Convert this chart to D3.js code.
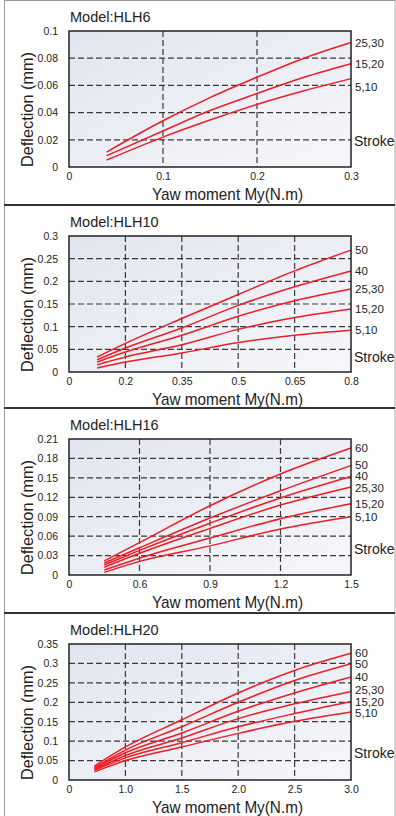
<!DOCTYPE html>
<html>
<head>
<meta charset="utf-8">
<script src="https://cdn.jsdelivr.net/npm/d3@7/dist/d3.min.js"></script>
<style>
  body { margin: 0; background: #fff; }
  text { font-family: "Liberation Sans", Arial, sans-serif; fill: #222; }
</style>
</head>
<body>
<script>
// ---- data ----
var models = ["HLH6", "HLH10", "HLH16", "HLH20"];

var xTicks6 = [0, 0.1, 0.2, 0.3];
var xLabels6 = ["0", "0.1", "0.2", "0.3"];
var yTicks6 = [0, 0.02, 0.04, 0.06, 0.08, 0.1];
var yLabels6 = ["0", "0.02", "0.04", "0.06", "0.08", "0.1"];
var series6 = ["25,30", "15,20", "5,10"];
var x6 = [0.04, 0.1, 0.15, 0.2, 0.25, 0.3];
var y6 = [
  [0.011, 0.034, 0.051, 0.066, 0.080, 0.0915],
  [0.0083, 0.0265, 0.0415, 0.054, 0.066, 0.076],
  [0.0051, 0.022, 0.0345, 0.046, 0.056, 0.065]
];

var xTicks10 = [0, 0.2, 0.35, 0.5, 0.65, 0.8];
var xLabels10 = ["0", "0.2", "0.35", "0.5", "0.65", "0.8"];
var yTicks10 = [0, 0.05, 0.1, 0.15, 0.2, 0.25, 0.3];
var yLabels10 = ["0", "0.05", "0.1", "0.15", "0.2", "0.25", "0.3"];
var series10 = ["50", "40", "25,30", "15,20", "5,10"];
var x10 = [0.1, 0.2, 0.35, 0.5, 0.65, 0.8];
var y10 = [
  [0.033, 0.063, 0.118, 0.171, 0.223, 0.269],
  [0.027, 0.053, 0.097, 0.147, 0.188, 0.223],
  [0.022, 0.044, 0.081, 0.123, 0.157, 0.183],
  [0.016, 0.033, 0.060, 0.094, 0.120, 0.139],
  [0.009, 0.022, 0.042, 0.065, 0.081, 0.092]
];

var xTicks16 = [0, 0.6, 0.9, 1.2, 1.5];
var xLabels16 = ["0", "0.6", "0.9", "1.2", "1.5"];
var yTicks16 = [0, 0.03, 0.06, 0.09, 0.12, 0.15, 0.18, 0.21];
var yLabels16 = ["0", "0.03", "0.06", "0.09", "0.12", "0.15", "0.18", "0.21"];
var series16 = ["60", "50", "40", "25,30", "15,20", "5,10"];
var x16 = [0.3, 0.6, 0.9, 1.2, 1.5];
var y16 = [
  [0.0217, 0.050, 0.107, 0.156, 0.196],
  [0.0186, 0.042, 0.088, 0.130, 0.169],
  [0.0155, 0.038, 0.080, 0.119, 0.152],
  [0.012, 0.0335, 0.072, 0.108, 0.136],
  [0.0077, 0.026, 0.057, 0.087, 0.110],
  [0.004, 0.021, 0.045, 0.071, 0.090]
];

var xTicks20 = [0, 1.0, 1.5, 2.0, 2.5, 3.0];
var xLabels20 = ["0", "1.0", "1.5", "2.0", "2.5", "3.0"];
var yTicks20 = [0, 0.05, 0.1, 0.15, 0.2, 0.25, 0.3, 0.35];
var yLabels20 = ["0", "0.05", "0.1", "0.15", "0.2", "0.25", "0.3", "0.35"];
var series20 = ["60", "50", "40", "25,30", "15,20", "5,10"];
var x20 = [0.45, 1.0, 1.5, 2.0, 2.5, 3.0];
var y20 = [
  [0.036, 0.085, 0.155, 0.224, 0.282, 0.326],
  [0.032, 0.077, 0.137, 0.200, 0.256, 0.299],
  [0.030, 0.070, 0.121, 0.177, 0.224, 0.265],
  [0.027, 0.063, 0.108, 0.158, 0.196, 0.228],
  [0.025, 0.057, 0.096, 0.137, 0.171, 0.202],
  [0.021, 0.050, 0.085, 0.120, 0.151, 0.175]
];

var panels = [
  {model: models[0], xTicks: xTicks6, xLabels: xLabels6, yTicks: yTicks6, yLabels: yLabels6, names: series6, xs: x6, ys: y6},
  {model: models[1], xTicks: xTicks10, xLabels: xLabels10, yTicks: yTicks10, yLabels: yLabels10, names: series10, xs: x10, ys: y10},
  {model: models[2], xTicks: xTicks16, xLabels: xLabels16, yTicks: yTicks16, yLabels: yLabels16, names: series16, xs: x16, ys: y16},
  {model: models[3], xTicks: xTicks20, xLabels: xLabels20, yTicks: yTicks20, yLabels: yLabels20, names: series20, xs: x20, ys: y20}
];

// ---- layout ----
var width = 396, height = 816;
var panelTops = [0, 205, 408, 613];
var strokeLift = [26, 15, 26, 27];   // "Stroke" label height above the plot bottom
var plotLeft = 69, plotRight = 351, plotH = 136;

var svg = d3.select("body").append("svg")
    .attr("width", width)
    .attr("height", height);

var grad = svg.append("defs").append("linearGradient")
    .attr("id", "bg")
    .attr("x1", 0).attr("y1", 0).attr("x2", 1).attr("y2", 1);
grad.append("stop").attr("offset", "0%").attr("stop-color", "#e1e5ef");
grad.append("stop").attr("offset", "100%").attr("stop-color", "#f6f7fa");

// outer frame
svg.append("line").attr("x1", 4.5).attr("x2", 4.5).attr("y1", 0).attr("y2", height)
    .attr("stroke", "#999").attr("stroke-width", 1);
svg.append("line").attr("x1", 395).attr("x2", 395).attr("y1", 0).attr("y2", height)
    .attr("stroke", "#aaa").attr("stroke-width", 1);
svg.append("line").attr("x1", 4).attr("x2", 395).attr("y1", 0.5).attr("y2", 0.5)
    .attr("stroke", "#999").attr("stroke-width", 1);

panels.forEach(function (p, k) {
    var top = panelTops[k] + 31;
    var bottom = top + plotH;
    var g = svg.append("g");

    if (k > 0) {
        g.append("line")
            .attr("x1", 4).attr("x2", 395)
            .attr("y1", panelTops[k]).attr("y2", panelTops[k])
            .attr("stroke", "#333").attr("stroke-width", 2);
    }

    var step = (plotRight - plotLeft) / (p.xTicks.length - 1);
    var x = d3.scaleLinear()
        .domain(p.xTicks)
        .range(p.xTicks.map(function (d, i) { return plotLeft + i * step; }));
    var y = d3.scaleLinear()
        .domain([0, p.yTicks[p.yTicks.length - 1]])
        .range([bottom, top]);

    g.append("rect")
        .attr("x", plotLeft).attr("y", top)
        .attr("width", plotRight - plotLeft).attr("height", plotH)
        .attr("fill", "url(#bg)");

    // dashed grid
    g.selectAll(".hgrid")
        .data(p.yTicks.slice(1, -1))
        .enter().append("line")
        .attr("x1", plotLeft).attr("x2", plotRight)
        .attr("y1", function (d) { return y(d); })
        .attr("y2", function (d) { return y(d); })
        .attr("stroke", "#3a3a3a").attr("stroke-width", 1.2)
        .attr("stroke-dasharray", "6,3");
    g.selectAll(".vgrid")
        .data(p.xTicks.slice(1, -1))
        .enter().append("line")
        .attr("y1", top).attr("y2", bottom)
        .attr("x1", function (d) { return x(d); })
        .attr("x2", function (d) { return x(d); })
        .attr("stroke", "#3a3a3a").attr("stroke-width", 1.2)
        .attr("stroke-dasharray", "6,3");

    // curves
    var line = d3.line()
        .x(function (d) { return x(d[0]); })
        .y(function (d) { return y(d[1]); })
        .curve(d3.curveMonotoneX);
    p.ys.forEach(function (vals) {
        g.append("path")
            .datum(p.xs.map(function (xv, i) { return [xv, vals[i]]; }))
            .attr("d", line)
            .attr("fill", "none")
            .attr("stroke", "#ee1c25")
            .attr("stroke-width", 1.5);
    });

    g.append("rect")
        .attr("x", plotLeft).attr("y", top)
        .attr("width", plotRight - plotLeft).attr("height", plotH)
        .attr("fill", "none").attr("stroke", "#222").attr("stroke-width", 1.5);

    // axes (labels only)
    var yAxis = g.append("g")
        .attr("transform", "translate(" + (plotLeft - 8) + ",0)")
        .call(d3.axisLeft(y).tickValues(p.yTicks).tickSize(0)
            .tickFormat(function (d, i) { return p.yLabels[i]; }));
    var xAxis = g.append("g")
        .attr("transform", "translate(0," + (bottom + 3) + ")")
        .call(d3.axisBottom(x).tickValues(p.xTicks).tickSize(0)
            .tickFormat(function (d, i) { return p.xLabels[i]; }));
    [yAxis, xAxis].forEach(function (a) {
        a.select(".domain").remove();
        a.selectAll("text")
            .attr("font-family", "Liberation Sans, Arial, sans-serif")
            .attr("font-size", 10.5)
            .attr("fill", "#222");
    });

    g.append("text")
        .attr("x", plotLeft + 1).attr("y", top - 9.5)
        .attr("font-size", 14.5)
        .text("Model:" + p.model);

    g.append("text")
        .attr("x", 152).attr("y", bottom + 32.5)
        .attr("font-size", 17)
        .attr("textLength", 151).attr("lengthAdjust", "spacingAndGlyphs")
        .text("Yaw moment My(N.m)");

    g.append("text")
        .attr("transform", "translate(33," + (bottom) + ") rotate(-90)")
        .attr("font-size", 17)
        .attr("textLength", 115).attr("lengthAdjust", "spacingAndGlyphs")
        .text("Deflection (mm)");

    // series labels at curve ends, spread so they do not collide
    var pos = p.ys.map(function (vals) { return y(vals[vals.length - 1]); });
    if (k === 0) pos[2] += 8;
    var minGap = 11.5;
    for (var it = 0; it < 20; it++) {
        for (var i = 1; i < pos.length; i++) {
            var gap = pos[i] - pos[i - 1];
            if (gap < minGap) {
                var d = (minGap - gap) / 2;
                pos[i - 1] -= d;
                pos[i] += d;
            }
        }
    }
    p.names.forEach(function (name, i) {
        g.append("text")
            .attr("x", 355)
            .attr("y", pos[i])
            .attr("dy", "0.35em")
            .attr("font-size", 11.5)
            .text(name);
    });

    g.append("text")
        .attr("x", 354)
        .attr("y", bottom - strokeLift[k])
        .attr("dy", "0.35em")
        .attr("font-size", 14)
        .text("Stroke");
});
</script>
</body>
</html>
